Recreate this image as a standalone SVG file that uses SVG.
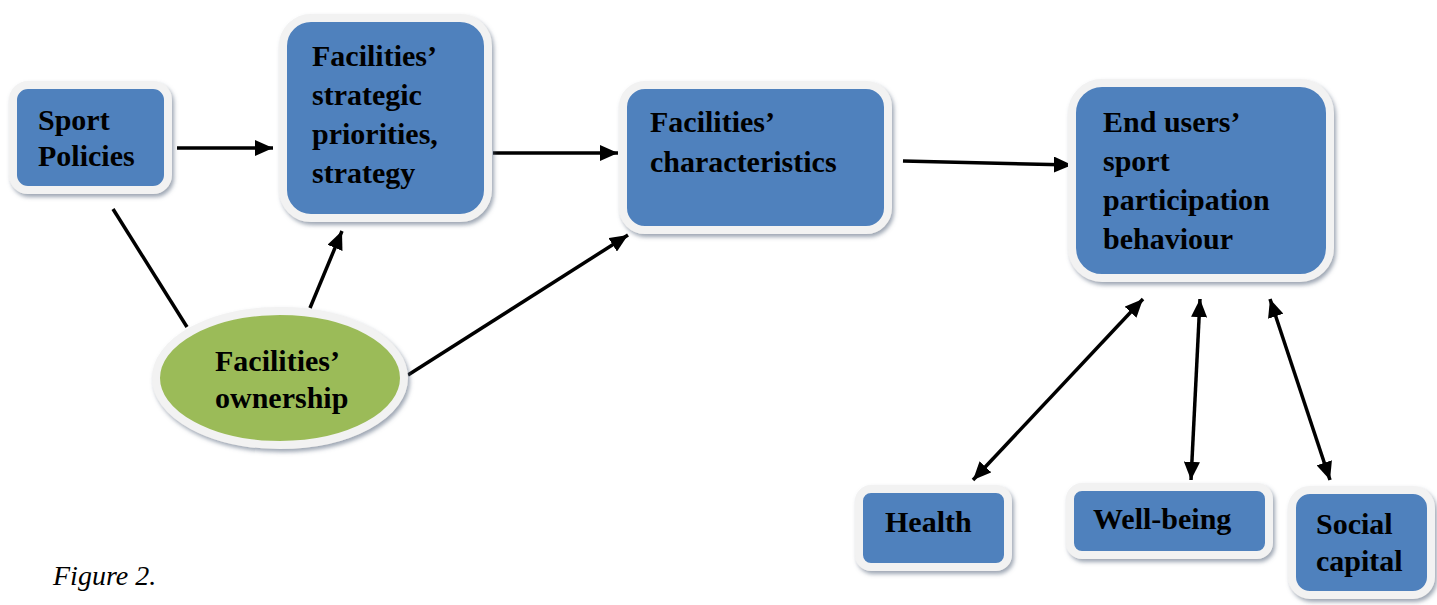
<svg xmlns="http://www.w3.org/2000/svg" width="1437" height="605" viewBox="0 0 1437 605">
<style>
.box{fill:#4F81BD;stroke:#F2F2F2;stroke-width:8;filter:url(#sh)}
.ell{fill:#9BBB59;stroke:#F2F2F2;stroke-width:8;filter:url(#sh)}
.t{font-family:"Liberation Serif","Times New Roman",serif;font-weight:bold;font-size:30px;fill:#000}
.cap{font-family:"Liberation Serif","Times New Roman",serif;font-style:italic;font-size:28px;fill:#000}
.c{stroke:#000;stroke-width:3.5;fill:none}
</style>
<defs>
<filter id="sh" x="-10%" y="-10%" width="125%" height="130%">
<feDropShadow dx="2" dy="3" stdDeviation="2" flood-color="#5a6a80" flood-opacity="0.6"/>
</filter>
<marker id="ah" viewBox="0 0 10 10" refX="10" refY="5" markerWidth="5.2" markerHeight="4.6" preserveAspectRatio="none" orient="auto-start-reverse" markerUnits="strokeWidth">
<path d="M0,0 L10,5 L0,10 Z" fill="#000"/>
</marker>
</defs>

<g id="connectors">
<line class="c" x1="177" y1="148" x2="273" y2="148" marker-end="url(#ah)"/>
<line class="c" x1="493" y1="153" x2="618" y2="153" marker-end="url(#ah)"/>
<line class="c" x1="903" y1="161" x2="1072" y2="165" marker-end="url(#ah)"/>
<line class="c" x1="113" y1="209" x2="187" y2="327"/>
<line class="c" x1="310" y1="308" x2="342" y2="231" marker-end="url(#ah)"/>
<line class="c" x1="408" y1="375" x2="628" y2="235" marker-end="url(#ah)"/>
<line class="c" x1="973" y1="480" x2="1143" y2="299" marker-start="url(#ah)" marker-end="url(#ah)"/>
<line class="c" x1="1191" y1="480" x2="1200" y2="299" marker-start="url(#ah)" marker-end="url(#ah)"/>
<line class="c" x1="1330" y1="480" x2="1270" y2="299" marker-start="url(#ah)" marker-end="url(#ah)"/>
</g>

<g id="sport-policies">
<rect class="box" x="13" y="85" width="155" height="105" rx="15"/>
<text class="t" x="38" y="130">Sport</text>
<text class="t" x="38" y="166">Policies</text>
</g>

<g id="strategic-priorities">
<rect class="box" x="283" y="18" width="205" height="200" rx="28"/>
<text class="t" x="312" y="66">Facilities’</text>
<text class="t" x="312" y="105">strategic</text>
<text class="t" x="312" y="144">priorities,</text>
<text class="t" x="312" y="183">strategy</text>
</g>

<g id="characteristics">
<rect class="box" x="623" y="85" width="265" height="145" rx="22"/>
<text class="t" x="650" y="132">Facilities’</text>
<text class="t" x="650" y="172">characteristics</text>
</g>

<g id="end-users">
<rect class="box" x="1072" y="83" width="258" height="195" rx="30"/>
<text class="t" x="1103" y="132">End users’</text>
<text class="t" x="1103" y="171">sport</text>
<text class="t" x="1103" y="210">participation</text>
<text class="t" x="1103" y="249">behaviour</text>
</g>

<g id="ownership">
<ellipse class="ell" cx="280" cy="378" rx="124" ry="67"/>
<text class="t" x="215" y="371">Facilities’</text>
<text class="t" x="215" y="408">ownership</text>
</g>

<g id="health">
<rect class="box" x="859" y="489" width="149" height="78" rx="12"/>
<text class="t" x="885" y="532">Health</text>
</g>

<g id="well-being">
<rect class="box" x="1070" y="487" width="199" height="68" rx="12"/>
<text class="t" x="1093" y="529">Well-being</text>
</g>

<g id="social-capital">
<rect class="box" x="1292" y="490" width="139" height="105" rx="18"/>
<text class="t" x="1316" y="534">Social</text>
<text class="t" x="1316" y="571">capital</text>
</g>

<text class="cap" x="53" y="585">Figure 2.</text>
</svg>
